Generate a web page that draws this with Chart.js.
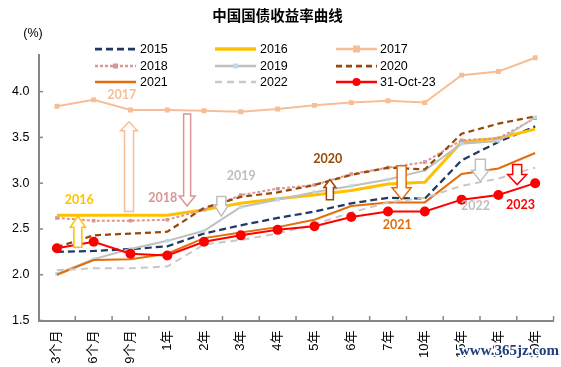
<!DOCTYPE html>
<html><head><meta charset="utf-8">
<script src="https://cdn.jsdelivr.net/npm/chart.js@4"></script>
<style>html,body{margin:0;padding:0;background:#fff;}#wrap{width:561px;height:367px;position:relative;}</style>
</head><body><div id="wrap"><canvas id="c" width="561" height="367"></canvas></div>
<script>
const categories = ['3个月','6个月','9个月','1年','2年','3年','4年','5年','6年','7年','10年','15年','20年','30年'];
const seriesNames = ['2015','2016','2017','2018','2019','2020','2021','2022','31-Oct-23'];
const y2015 = [2.25, 2.26, 2.28, 2.31, 2.45, 2.54, 2.62, 2.69, 2.78, 2.84, 2.83, 3.25, 3.45, 3.62];
const y2016 = [2.65, 2.65, 2.65, 2.65, 2.71, 2.78, 2.83, 2.87, 2.92, 2.99, 3.01, 3.45, 3.49, 3.59];
const y2017 = [3.84, 3.91, 3.80, 3.80, 3.79, 3.78, 3.81, 3.85, 3.88, 3.90, 3.88, 4.18, 4.22, 4.37];
const y2018 = [2.62, 2.59, 2.59, 2.60, 2.71, 2.87, 2.94, 2.98, 3.10, 3.17, 3.23, 3.47, 3.49, 3.71];
const y2019 = [2.01, 2.17, 2.28, 2.37, 2.48, 2.74, 2.82, 2.90, 2.97, 3.04, 3.14, 3.43, 3.46, 3.72];
const y2020 = [2.30, 2.43, 2.45, 2.47, 2.73, 2.85, 2.90, 2.98, 3.09, 3.17, 3.15, 3.54, 3.65, 3.73];
const y2021 = [2.00, 2.16, 2.17, 2.23, 2.40, 2.46, 2.52, 2.60, 2.75, 2.79, 2.79, 3.10, 3.16, 3.33];
const y2022 = [2.05, 2.07, 2.07, 2.09, 2.33, 2.38, 2.45, 2.55, 2.68, 2.79, 2.84, 2.97, 3.05, 3.17];
const yOct23 = [2.29, 2.36, 2.23, 2.21, 2.36, 2.43, 2.49, 2.53, 2.63, 2.69, 2.69, 2.82, 2.87, 3.00];
const yTickValues = [1.5, 2.0, 2.5, 3.0, 3.5, 4.0];

// annotation labels (category index, value) and arrows (category index, from value, to value)
const labelTexts = ['2017','2016','2018','2019','2020','2021','2022','2023'];
const labelIdx   = [1.76, 0.61, 2.88, 5.01, 7.36, 9.25, 11.38, 12.6];
const labelVal   = [3.965, 2.82, 2.84, 3.077, 3.26, 2.546, 2.747, 2.766];
const arrowIdx   = [0.57, 1.96, 3.54, 4.47, 7.42, 9.37, 11.51, 12.51];
const arrowFrom  = [2.30, 2.69, 3.755, 2.855, 2.82, 3.19, 3.26, 3.205];
const arrowTo    = [2.64, 3.67, 2.75, 2.64, 3.04, 2.82, 3.02, 2.985];

const seriesValues = [y2015, y2016, y2017, y2018, y2019, y2020, y2021, y2022, yOct23];
const styles = [
  {color:'#1F3864', width:2.25, dash:[7,4]},
  {color:'#FFC000', width:3, dash:[]},
  {color:'#F7BE96', width:2, dash:[], ps:'rect', pr:3.5, pf:'#F7BE96'},
  {color:'#DA9694', width:2, dash:[3,2], ps:'rect', pr:2.5, pf:'#DA9694'},
  {color:'#BFBFBF', width:2, dash:[], ps:'rect', pr:2.5, pf:'#B7DEE8'},
  {color:'#984807', width:2.25, dash:[6,4]},
  {color:'#E46C0A', width:2, dash:[]},
  {color:'#C8C8C8', width:2, dash:[7,5]},
  {color:'#FF0000', width:2, dash:[], ps:'circle', pr:5, pf:'#FF0000'}
];
const labelColors = ['#F7BE96','#FFC000','#D99694','#BFBFBF','#984807','#E46C0A','#BFBFBF','#FF0000'];
const arrowStyles = [
  {c:'#FFC000', bw:8, hw:15, hl:11},
  {c:'#F7BE96', bw:9, hw:17, hl:9},
  {c:'#D99694', bw:7, hw:16, hl:10},
  {c:'#BFBFBF', bw:9, hw:14, hl:11},
  {c:'#984807', bw:7, hw:12, hl:8},
  {c:'#E46C0A', bw:9, hw:19, hl:12},
  {c:'#BFBFBF', bw:10, hw:17, hl:11},
  {c:'#FF0000', bw:9, hw:19, hl:10}
];

const datasets = seriesValues.map((vals, i) => {
  const s = styles[i];
  return {
    label: seriesNames[i], data: vals,
    borderColor: s.color, borderWidth: s.width, borderDash: s.dash,
    pointRadius: s.ps ? s.pr : 0, pointStyle: s.ps || 'circle',
    pointBackgroundColor: s.pf, pointBorderWidth: 0, pointHoverRadius: s.ps ? s.pr : 0,
    tension: 0, fill: false, order: seriesValues.length - i
  };
});

const AXIS = '#868686';
const tickFont = {family:'"Liberation Sans", Arial, sans-serif', size:12.5};
const xTickFont = {family:'"Liberation Sans", "Noto Sans CJK SC", sans-serif', size:13};

const extras = {
  id: 'extras',
  afterDatasetsDraw(chart) {
    const ctx = chart.ctx, xs = chart.scales.x, ys = chart.scales.y;
    arrowIdx.forEach((ix, k) => {
      const st = arrowStyles[k];
      const x = xs.getPixelForValue(ix);
      const yT = ys.getPixelForValue(arrowFrom[k]);
      const yP = ys.getPixelForValue(arrowTo[k]);
      const dir = Math.sign(yP - yT);
      const hb = yP - dir * st.hl;
      ctx.save();
      ctx.beginPath();
      ctx.moveTo(x - st.bw/2, yT);
      ctx.lineTo(x - st.bw/2, hb);
      ctx.lineTo(x - st.hw/2, hb);
      ctx.lineTo(x, yP);
      ctx.lineTo(x + st.hw/2, hb);
      ctx.lineTo(x + st.bw/2, hb);
      ctx.lineTo(x + st.bw/2, yT);
      ctx.closePath();
      ctx.fillStyle = '#fff';
      ctx.fill();
      ctx.lineWidth = 1.5;
      ctx.strokeStyle = st.c;
      ctx.stroke();
      ctx.restore();
    });
    ctx.save();
    ctx.font = 'bold 12.5px Lato, "Open Sans", sans-serif';
    ctx.textAlign = 'center';
    ctx.textBaseline = 'middle';
    labelTexts.forEach((t, k) => {
      ctx.fillStyle = labelColors[k];
      ctx.fillText(t, xs.getPixelForValue(labelIdx[k]), ys.getPixelForValue(labelVal[k]));
    });
    ctx.restore();
  },
  afterDraw(chart) {
    const ctx = chart.ctx, xs = chart.scales.x, ys = chart.scales.y, ca = chart.chartArea;
    ctx.save();
    ctx.strokeStyle = AXIS; ctx.lineWidth = 1.5;
    for (let i = 1; i <= categories.length; i++) {
      const x = i < categories.length ? (xs.getPixelForValue(i) + xs.getPixelForValue(i-1)) / 2 : ca.right;
      ctx.beginPath(); ctx.moveTo(x, ca.bottom); ctx.lineTo(x, ca.bottom - 4.5); ctx.stroke();
    }
    yTickValues.forEach(v => {
      const y = ys.getPixelForValue(v);
      ctx.beginPath(); ctx.moveTo(ca.left, y); ctx.lineTo(ca.left + 4.5, y); ctx.stroke();
    });
    ctx.restore();
    ctx.save();
    ctx.font = '12.5px "Liberation Sans", Arial, sans-serif';
    ctx.fillStyle = '#000'; ctx.textAlign = 'center'; ctx.textBaseline = 'middle';
    ctx.fillText('(%)', 33, 34);
    ctx.restore();
    const colLine = [95, 215, 336], colText = [140, 260, 380], rowY = [49, 66, 82];
    chart.data.datasets.forEach((ds, i) => {
      const c = i % 3, r = Math.floor(i / 3);
      const x0 = colLine[c], x1 = x0 + 41, y = rowY[r];
      ctx.save();
      ctx.strokeStyle = ds.borderColor; ctx.lineWidth = ds.borderWidth + 0.5;
      ctx.setLineDash(ds.borderDash || []);
      ctx.beginPath(); ctx.moveTo(x0, y); ctx.lineTo(x1, y); ctx.stroke();
      ctx.setLineDash([]);
      if (ds.pointRadius > 0) {
        const mx = (x0 + x1) / 2;
        ctx.fillStyle = ds.pointBackgroundColor;
        ctx.beginPath();
        if (ds.pointStyle === 'rect') ctx.rect(mx - ds.pointRadius, y - ds.pointRadius, ds.pointRadius*2, ds.pointRadius*2);
        else ctx.arc(mx, y, ds.pointRadius * 0.8, 0, Math.PI*2);
        ctx.fill();
      }
      ctx.font = '12.5px "Liberation Sans", Arial, sans-serif';
      ctx.fillStyle = '#000'; ctx.textAlign = 'left'; ctx.textBaseline = 'middle';
      ctx.fillText(ds.label, colText[c], y + 0.5);
      ctx.restore();
    });
    ctx.save();
    ctx.font = 'bold 15px "Liberation Serif", "DejaVu Serif", serif';
    ctx.textAlign = 'center'; ctx.textBaseline = 'middle';
    ctx.lineWidth = 3; ctx.strokeStyle = '#fff';
    ctx.strokeText('www.365jz.com', 509, 351);
    ctx.fillStyle = '#1F3F7A';
    ctx.fillText('www.365jz.com', 509, 351);
    ctx.restore();
  }
};

new Chart(document.getElementById('c'), {
  type: 'line',
  data: { labels: categories, datasets },
  options: {
    responsive: false, animation: false, devicePixelRatio: 1,
    layout: { padding: { top: 0, right: 6, bottom: 0, left: 0 } },
    plugins: {
      legend: { display: false },
      tooltip: { enabled: false },
      title: {
        display: true, text: '中国国债收益率曲线', color: '#000',
        font: { family: '"Noto Sans CJK SC", sans-serif', size: 14.5, weight: 'bold', lineHeight: 1.2 },
        padding: { top: 6.5, bottom: 31.1 }
      }
    },
    scales: {
      x: {
        type: 'category', offset: true,
        grid: { display: false, drawTicks: false },
        border: { display: true, color: AXIS, width: 2 },
        ticks: { autoSkip: false, minRotation: 90, maxRotation: 90, padding: 10, color: '#000', font: xTickFont },
        afterFit(s) { s.height = 46.5; }
      },
      y: {
        min: 1.5, max: 4.4,
        afterBuildTicks(s) { s.ticks = yTickValues.map(v => ({ value: v })); },
        grid: { display: false, drawTicks: false },
        border: { display: true, color: AXIS, width: 2 },
        ticks: { padding: 9, color: '#000', font: tickFont, callback: v => Number(v).toFixed(1) },
        afterFit(s) { s.width = 38.5; }
      }
    }
  },
  plugins: [extras]
});
</script></body></html>
